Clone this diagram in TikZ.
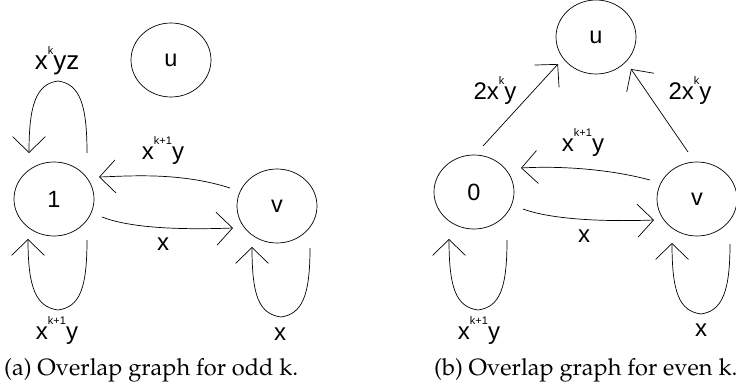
\documentclass[tikz,border=0pt]{standalone}
\usepackage[T1]{fontenc}
\usepackage{fontspec}
\newfontfamily\lsans{Liberation Sans}
\usetikzlibrary{arrows.meta,shapes.geometric}
\newcommand\capfont{\fontencoding{T1}\fontfamily{ppl}\fontsize{23.5}{27}\selectfont}
\newcommand\supx[1]{\raisebox{15pt}{\fontsize{11}{11}\selectfont #1}}
\tikzset{
  state/.style={ellipse, draw, line width=0.7pt, minimum width=80, minimum height=74, inner sep=0,
    font=\lsans\fontsize{23.5}{23.5}\selectfont},
  edge/.style={draw, line width=0.7pt, -{Straight Barb[length=16pt,width=33pt,line width=0.7pt]}},
  lbl/.style={font=\lsans\fontsize{24}{24}\selectfont, anchor=base, inner sep=0},
  captext/.style={font=\capfont, anchor=base west, inner sep=0}
}
\begin{document}
\begin{tikzpicture}[x=1pt,y=-1pt]
\useasboundingbox (0,0) rectangle (736,390);
% left graph
\node[state] (n1) at (54,199) {1};
\node[state] (u1) at (171,60) {u};
\node[state] (v1) at (277,206) {v};
\draw[edge] ([shift={(33,-46)}]n1.center) .. controls (87,105) and (80,84) .. (58,81)
  .. controls (36,84) and (29,105) .. ([shift={(-25,-46)}]n1.center);
\draw[edge] ([shift={(33,41)}]n1.center) .. controls (87,288) and (80,307) .. (58,310)
  .. controls (36,307) and (28,288) .. ([shift={(-26,40)}]n1.center);
\draw[edge] ([shift={(33,42)}]v1.center) .. controls (310,296) and (302,314) .. (281,317)
  .. controls (259,314) and (252,296) .. ([shift={(-25,41)}]v1.center);
\draw[edge] ([shift={(-47,-18)}]v1.center) .. controls (180,172) and (130,176) .. ([shift={(45,-22)}]n1.center);
\draw[edge] ([shift={(48,18)}]n1.center) .. controls (130,228) and (180,230) .. ([shift={(-44,22)}]v1.center);
\node[lbl, font=\lsans\fontsize{26}{26}\selectfont] (l1) at (57,70) {x\supx{k}yz};
\node[lbl] (l2) at (163,160) {x\supx{k+1}y};
\node[lbl] (l3) at (163,251) {x};
\node[lbl] (l4) at (57,339) {x\supx{k+1}y};
\node[lbl] (l5) at (280,340) {x};
\node[captext] (c1) at (4,375) {(a) Overlap graph for odd k.};
% right graph
\node[state] (n0) at (474,192) {0};
\node[state] (u2) at (596,37) {u};
\node[state] (v2) at (697,199) {v};
\draw[edge] ([shift={(9,-46)}]n0.center) -- ([shift={(-38,27)}]u2.center);
\draw[edge] ([shift={(-9,-47)}]v2.center) -- ([shift={(35,32)}]u2.center);
\draw[edge] ([shift={(-47,-19)}]v2.center) .. controls (605,168) and (555,166) .. ([shift={(47,-24)}]n0.center);
\draw[edge] ([shift={(49,17)}]n0.center) .. controls (550,219) and (600,222) .. ([shift={(-43,21)}]v2.center);
\draw[edge] ([shift={(33,48)}]n0.center) .. controls (507,288) and (500,307) .. (478,310)
  .. controls (456,307) and (449,288) .. ([shift={(-25,47)}]n0.center);
\draw[edge] ([shift={(33,45)}]v2.center) .. controls (730,292) and (722,311) .. (701,314)
  .. controls (679,311) and (672,292) .. ([shift={(-25,44)}]v2.center);
\node[lbl] (r1) at (495,100) {2x\supx{k}y};
\node[lbl] (r2) at (690,100) {2x\supx{k}y};
\node[lbl] (r3) at (583,152) {x\supx{k+1}y};
\node[lbl] (r4) at (584,243) {x};
\node[lbl] (r5) at (479,339) {x\supx{k+1}y};
\node[lbl] (r6) at (701,336) {x};
\node[captext] (c2) at (434,375) {(b) Overlap graph for even k.};
\end{tikzpicture}
\end{document}
